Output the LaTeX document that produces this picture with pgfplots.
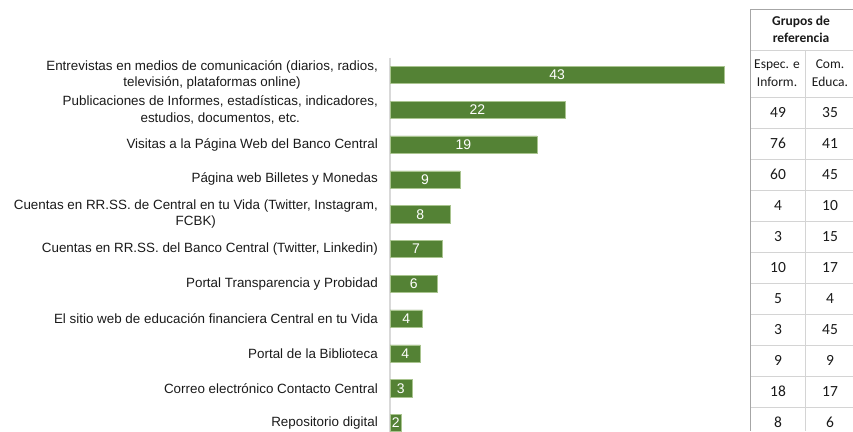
\documentclass[border=0pt]{standalone}
\usepackage{pgfplots}
\pgfplotsset{compat=1.18}
\usepackage{pgfplotstable}
\usepackage{fontspec}
\setmainfont{Liberation Sans}
\newfontfamily\calibri{Carlito}

\definecolor{barfill}{HTML}{548235}
\definecolor{baredge}{HTML}{A9C48F}
\definecolor{axgray}{HTML}{D9D9D9}
\definecolor{tabline}{HTML}{D4D4D4}
\definecolor{tabedge}{HTML}{A6A6A6}
\definecolor{txt}{HTML}{1A1A1A}

% bar length (as drawn) and the label shown on it
\pgfplotstableread{
row len  lbl
0   43.0 43
1   22.5 22
2   18.9 19
3   9.0  9
4   7.8  8
5   6.7  7
6   6.1  6
7   4.2  4
8   3.9  4
9   2.8  3
10  1.5  2
}\bars

% Grupos de referencia: Espec. e Inform. / Com. Educa.
\pgfplotstableread{
row esp com
0   49  35
1   76  41
2   60  45
3   4   10
4   3   15
5   10  17
6   5   4
7   3   45
8   9   9
9   18  17
10  8   6
}\grupos

\begin{document}
\begin{tikzpicture}
\useasboundingbox (0,0) rectangle (853pt,431pt);

% table grid (pixel layout, y measured from the top)
\foreach \y in {97,128,159,190,221,252,283,314,345,376,407}
  \draw[tabline, line width=0.8pt] (805pt,431pt-\y pt) -- (853pt,431pt-\y pt)
                                   (750pt,431pt-\y pt) -- (805pt,431pt-\y pt);
\draw[tabline, line width=0.8pt] (750pt,431pt-50pt) -- (853pt,431pt-50pt);
\draw[tabline, line width=0.8pt] (805pt,431pt-50pt) -- (805pt,0pt);
\draw[tabedge, line width=1pt] (853pt,431pt-10pt) -- (750pt,431pt-10pt) -- (750pt,0pt);

% table text, in an axis that spans the page in pixel units
\begin{axis}[
  at={(0pt,0pt)}, anchor=south west,
  scale only axis, width=853pt, height=431pt,
  xmin=0, xmax=853, ymin=0, ymax=431, y dir=reverse,
  hide axis, clip=false,
  every node near coord/.append style={anchor=center, text=txt,
    font=\calibri\fontsize{15.5}{15.5}\selectfont},
]
  \node[font=\calibri\bfseries\fontsize{13.5}{17}\selectfont, align=center, text=txt]
    at (axis cs:801,29) {Grupos de\\referencia};
  \node[font=\calibri\fontsize{13.5}{18}\selectfont, align=center, text=txt]
    at (axis cs:777,73) {Espec. e\\Inform.};
  \node[font=\calibri\fontsize{13.5}{18}\selectfont, align=center, text=txt]
    at (axis cs:830,73) {Com.\\Educa.};
  \addplot[draw=none, nodes near coords, point meta=explicit symbolic]
    table[x expr=778, y expr=112.5+31*\coordindex, meta=esp] {\grupos};
  \addplot[draw=none, nodes near coords, point meta=explicit symbolic]
    table[x expr=830, y expr=112.5+31*\coordindex, meta=com] {\grupos};
\end{axis}

% the bar chart
\begin{axis}[
  at={(390pt,-9.4pt)}, anchor=south west,
  scale only axis, width=388.5pt, height=382.8pt,
  xmin=0, xmax=50, ymin=-0.5, ymax=10.5, y dir=reverse,
  axis x line=none, axis y line*=left,
  y axis line style={axgray, line width=1.2pt},
  ytick={0,...,10}, ytick style={draw=none},
  yticklabels={
    {Entrevistas en medios de comunicación (diarios, radios,\\televisión, plataformas online)},
    {Publicaciones de Informes, estadísticas, indicadores,\\estudios, documentos, etc.},
    Visitas a la Página Web del Banco Central,
    Página web Billetes y Monedas,
    {Cuentas en RR.SS. de Central en tu Vida (Twitter, Instagram,\\FCBK)},
    {Cuentas en RR.SS. del Banco Central (Twitter, Linkedin)},
    Portal Transparencia y Probidad,
    El sitio web de educación financiera Central en tu Vida,
    Portal de la Biblioteca,
    Correo electrónico Contacto Central,
    Repositorio digital},
  yticklabel style={align=center, text=txt, inner sep=0pt, xshift=-12pt,
    font=\fontsize{13.4}{16.5}\selectfont},
  clip=false,
]
  \addplot[xbar, bar width=17.3pt, fill=barfill, draw=baredge, line width=0.5pt]
    table[x=len, y=row] {\bars};
  \addplot[draw=none, nodes near coords, point meta=explicit symbolic,
    every node near coord/.append style={anchor=center, text=white,
      font=\fontsize{14}{14}\selectfont}]
    table[x expr=\thisrow{len}/2, y=row, meta=lbl] {\bars};
\end{axis}
\end{tikzpicture}
\end{document}
